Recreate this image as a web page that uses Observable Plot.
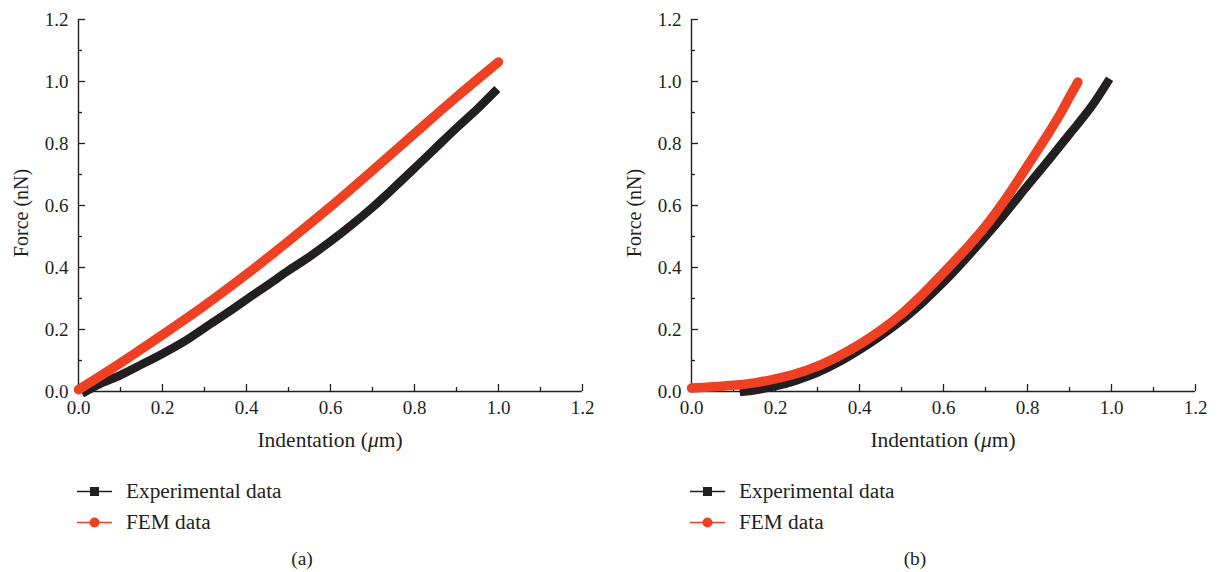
<!DOCTYPE html>
<html>
<head>
<meta charset="utf-8">
<script src="https://cdn.jsdelivr.net/npm/d3@7"></script>
<script src="https://cdn.jsdelivr.net/npm/@observablehq/plot@0.6"></script>
<style>
  html, body { margin: 0; padding: 0; background: #fff; }
  #root { position: relative; width: 1220px; height: 572px; font-family: "Liberation Serif", "DejaVu Serif", serif; color: #231F20; }
  .panel { position: absolute; top: 0; }
  .lbl { position: absolute; white-space: nowrap; font-size: 21.5px; transform: translate(-50%, -50%); }
  .ylbl { position: absolute; white-space: nowrap; font-size: 20px; transform: translate(-50%, -50%) rotate(-90deg); }
  .leg { position: absolute; display: flex; align-items: center; font-size: 21.3px; white-space: nowrap; }
  .leg svg { margin-right: 14px; }
  .cap { position: absolute; font-size: 19.5px; transform: translate(-50%, -50%); }
</style>
</head>
<body>
<div id="root"></div>
<script>
// ---------- data ----------
// Panel (a)
const aExpX = [0.017, 0.05, 0.1, 0.15, 0.2, 0.25, 0.3, 0.35, 0.4, 0.45, 0.5, 0.55, 0.6, 0.65, 0.7, 0.75, 0.8, 0.85, 0.9, 0.95, 0.99];
const aExpY = [0.0, 0.024, 0.053, 0.087, 0.122, 0.16, 0.205, 0.25, 0.297, 0.343, 0.39, 0.435, 0.484, 0.537, 0.594, 0.656, 0.72, 0.785, 0.85, 0.912, 0.966];
const aFemX = [0.0, 0.1, 0.2, 0.3, 0.4, 0.5, 0.6, 0.7, 0.8, 0.9, 1.0];
const aFemY = [0.006, 0.092, 0.183, 0.277, 0.378, 0.485, 0.596, 0.713, 0.832, 0.95, 1.063];
// Panel (b)
const bExpX = [0.125, 0.15, 0.2, 0.25, 0.3, 0.35, 0.4, 0.45, 0.5, 0.55, 0.6, 0.65, 0.7, 0.75, 0.8, 0.85, 0.9, 0.95, 0.99];
const bExpY = [0.0, 0.004, 0.017, 0.036, 0.061, 0.094, 0.134, 0.179, 0.229, 0.287, 0.352, 0.424, 0.5, 0.58, 0.664, 0.746, 0.83, 0.915, 0.997];
const bFemX = [0.0, 0.05, 0.1, 0.15, 0.2, 0.25, 0.3, 0.35, 0.4, 0.45, 0.5, 0.55, 0.6, 0.65, 0.7, 0.75, 0.8, 0.85, 0.88, 0.9, 0.92];
const bFemY = [0.011, 0.015, 0.02, 0.028, 0.041, 0.058, 0.082, 0.114, 0.152, 0.197, 0.25, 0.313, 0.383, 0.455, 0.533, 0.625, 0.728, 0.833, 0.9, 0.95, 0.998];

const majorTicks = [0, 0.2, 0.4, 0.6, 0.8, 1.0, 1.2];
const minorTicks = [0.1, 0.3, 0.5, 0.7, 0.9, 1.1];
const seriesNames = ["Experimental data", "FEM data"];
const xLabel = "Indentation (";
const yLabel = "Force (nN)";
const captions = ["(a)", "(b)"];

const BLACK = "#231F20";
const RED = "#EE4123";
const FONT = '"Liberation Serif", "DejaVu Serif", serif';

const zip = (xs, ys) => xs.map((x, i) => ({x, y: ys[i]}));

function panel(exp, fem, left) {
  const W = 610, H = 430, mT = 19, mB = H - 391, mL = left, mR = W - left - 504;
  const pxX = 1.2 / 504, pxY = 1.2 / 372; // data units per pixel
  return Plot.plot({
    width: W, height: H,
    marginTop: mT, marginBottom: mB, marginLeft: mL, marginRight: mR,
    x: {domain: [0, 1.2]},
    y: {domain: [0, 1.2]},
    style: {fontFamily: FONT, fontSize: "19px", color: BLACK, background: "white", overflow: "visible"},
    marks: [
      Plot.ruleY([0], {stroke: BLACK, strokeWidth: 1.4}),
      Plot.ruleX([0], {stroke: BLACK, strokeWidth: 1.4}),
      Plot.ruleX(majorTicks, {x: d => d, y1: 0, y2: 7 * pxY, stroke: BLACK, strokeWidth: 1.3}),
      Plot.ruleX(minorTicks, {x: d => d, y1: 0, y2: 4 * pxY, stroke: BLACK, strokeWidth: 1.3}),
      Plot.ruleY(majorTicks, {y: d => d, x1: 0, x2: 7 * pxX, stroke: BLACK, strokeWidth: 1.3}),
      Plot.ruleY(minorTicks, {y: d => d, x1: 0, x2: 4 * pxX, stroke: BLACK, strokeWidth: 1.3}),
      Plot.axisX({ticks: majorTicks, tickSize: 0, tickPadding: 9, tickFormat: d3.format(".1f"), label: null, fill: BLACK}),
      Plot.axisY({ticks: majorTicks, tickSize: 0, tickPadding: 10, tickFormat: d3.format(".1f"), label: null, fill: BLACK}),
      Plot.line(exp, {x: "x", y: "y", stroke: BLACK, strokeWidth: 8.5, strokeLinecap: "square", strokeLinejoin: "miter", curve: "catmull-rom"}),
      Plot.line(fem, {x: "x", y: "y", stroke: RED, strokeWidth: 9.5, strokeLinecap: "round", strokeLinejoin: "round", curve: "catmull-rom"})
    ]
  });
}

const root = document.getElementById("root");
const panels = [
  {exp: zip(aExpX, aExpY), fem: zip(aFemX, aFemY), offset: 0, left: 78},
  {exp: zip(bExpX, bExpY), fem: zip(bFemX, bFemY), offset: 610, left: 81}
];

panels.forEach((p, i) => {
  const chart = panel(p.exp, p.fem, p.left);
  const wrap = document.createElement("div");
  wrap.className = "panel";
  wrap.style.left = p.offset + "px";
  wrap.appendChild(chart);
  root.appendChild(wrap);

  const x0 = p.offset + p.left;
  const xl = document.createElement("div");
  xl.className = "lbl";
  xl.style.left = (x0 + 252) + "px";
  xl.style.top = "440px";
  xl.innerHTML = xLabel + "<i>μ</i>m)";
  root.appendChild(xl);
  const yl = document.createElement("div");
  yl.className = "ylbl";
  yl.style.left = (x0 - 57) + "px";
  yl.style.top = "213px";
  yl.textContent = yLabel;
  root.appendChild(yl);
  const legY = [491, 522];
  seriesNames.forEach((name, k) => {
    const d = document.createElement("div");
    d.className = "leg";
    d.style.left = (x0 - 1) + "px";
    d.style.top = (legY[k] - 12) + "px";
    d.style.height = "24px";
    const col = k === 0 ? BLACK : RED;
    const marker = k === 0
      ? `<rect x="13" y="8" width="9" height="9" fill="${col}"/>`
      : `<circle cx="17.5" cy="12.5" r="5" fill="${col}"/>`;
    d.innerHTML = `<svg width="35" height="25"><line x1="0" x2="35" y1="12.5" y2="12.5" stroke="${col}" stroke-width="1.5"/>${marker}</svg><span>${name}</span>`;
    root.appendChild(d);
  });
  const c = document.createElement("div");
  c.className = "cap";
  c.style.left = (x0 + 224) + "px";
  c.style.top = "559px";
  c.textContent = captions[i];
  root.appendChild(c);
});
</script>
</body>
</html>
